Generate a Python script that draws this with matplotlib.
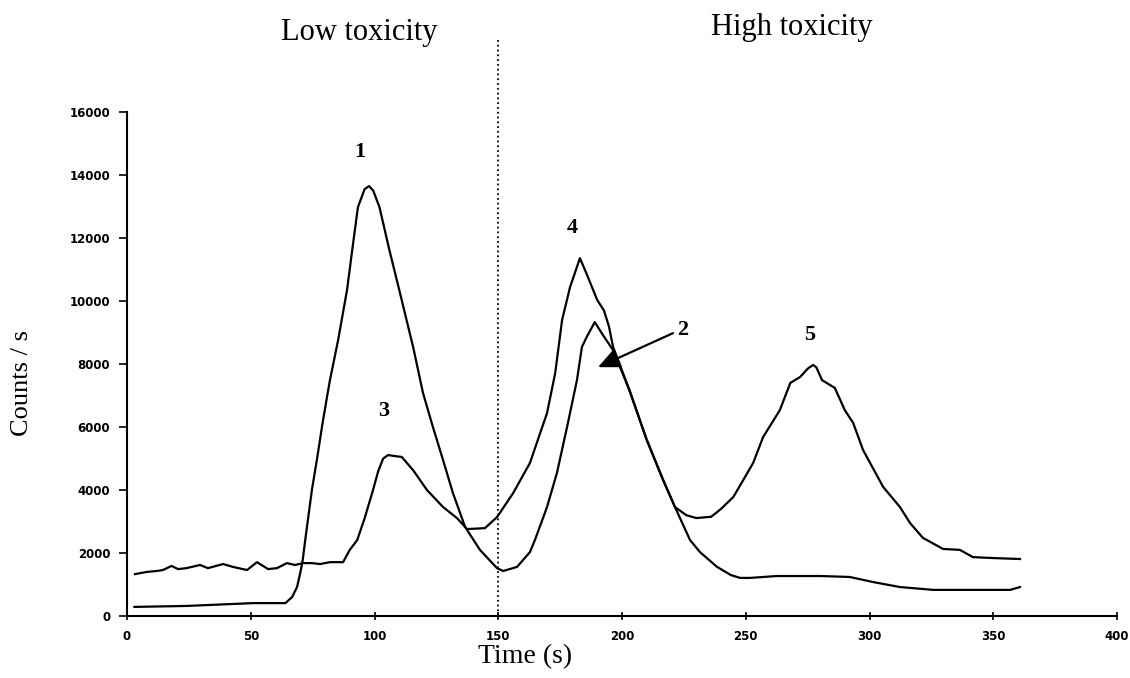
"""
Counts/s vs time for the two toxicity runs, redrawn from the scanned figure
"""
import matplotlib
matplotlib.use('Agg')
import matplotlib.pyplot as plt

# Curve with peaks 1 and 2
time_a = [3, 24, 51, 64, 66.7, 68.7, 70, 71, 72, 74.7, 77, 79, 80.8, 82, 85.3,
          88.9, 91, 93.3, 96, 97.8, 99.5, 102, 106, 110, 115.6, 119.6, 123.6,
          127.7, 131.7, 136.6, 142.6, 149.5, 152, 157.6, 162.8, 164.8, 169.7,
          173.7, 177.8, 181.8, 183.8, 186, 189, 192.3, 196.4, 203, 210, 216.6,
          221.4, 227.5, 231.5, 238.4, 244, 247.7, 251.7, 262.6, 280, 292, 301.4,
          312.3, 325.7, 339, 356.8, 360.8]
counts_a = [290, 320, 410, 410, 600, 920, 1370, 1780, 2410, 4000, 5100, 6120,
            6950, 7490, 8760, 10350, 11620, 12980, 13550, 13650, 13500, 12980,
            11620, 10350, 8540, 7080, 6000, 4950, 3900, 2830, 2100, 1520, 1430,
            1560, 2030, 2410, 3460, 4540, 6000, 7490, 8540, 8900, 9330, 8920,
            8440, 7170, 5590, 4320, 3460, 2410, 2030, 1560, 1300, 1210, 1210,
            1270, 1270, 1240, 1080, 920, 830, 830, 830, 920]

# Curve with peaks 3, 4 and 5
time_b = [3.2, 8, 12, 14.5, 18, 20.6, 24, 29.5, 32.7, 38.8, 42.8, 48.5, 52.5,
          57, 60.6, 64.6, 67.9, 71.1, 74.7, 78, 82, 87.3, 90, 93, 96, 99.4,
          101.5, 103.5, 105.5, 108, 111, 115.6, 121.2, 127.7, 133.3, 137.4,
          144.6, 149.5, 156, 162.8, 169.7, 173, 175.8, 179, 183, 185.5, 190,
          192.7, 194.7, 196.4, 203, 210, 216.6, 221.4, 226, 230, 236, 240, 245,
          249, 253, 257, 263.8, 268, 272, 275, 277.2, 278.5, 280.8, 286, 290,
          293.4, 297.4, 305.5, 312.3, 316.4, 321.6, 329.7, 336.5, 341.8, 350,
          360.8]
counts_b = [1330, 1400, 1430, 1460, 1590, 1490, 1520, 1620, 1520, 1650, 1560,
            1460, 1710, 1490, 1520, 1680, 1620, 1680, 1680, 1650, 1710, 1710,
            2100, 2410, 3100, 4000, 4600, 5000, 5110, 5080, 5050, 4630, 4000,
            3460, 3110, 2760, 2790, 3140, 3900, 4860, 6440, 7710, 9400, 10440,
            11360, 10900, 10030, 9700, 9200, 8540, 7170, 5590, 4320, 3460, 3200,
            3110, 3150, 3400, 3780, 4320, 4860, 5680, 6540, 7400, 7590, 7850,
            7970, 7900, 7490, 7240, 6540, 6130, 5270, 4100, 3460, 2950, 2480,
            2130, 2100, 1870, 1840, 1810]

x_ticks = [0, 50, 100, 150, 200, 250, 300, 350, 400]
y_ticks = [0, 2000, 4000, 6000, 8000, 10000, 12000, 14000, 16000]

peak_labels = ['1', '2', '3', '4', '5']
peak_x = [94.1, 224.6, 103.8, 179.8, 276]
peak_y = [14730, 9080, 6510, 12320, 8920]

fig = plt.figure(figsize=(11.3, 6.78), dpi=100)
ax = fig.add_axes([0.1124, 0.0914, 0.8761, 0.7434])

ax.plot(time_a, counts_a, color='black', lw=1.6)
ax.plot(time_b, counts_b, color='black', lw=1.6)

ax.set_xlim(0, 400)
ax.set_ylim(0, 16000)

# Spines and ticks like the scanned original
ax.spines['top'].set_visible(False)
ax.spines['right'].set_visible(False)
ax.spines['left'].set_linewidth(1.5)
ax.spines['bottom'].set_linewidth(1.5)
ax.set_xticks(x_ticks)
ax.set_yticks(y_ticks)
ax.tick_params(axis='y', direction='out', length=6, width=1.2, pad=6,
               labelsize=8.5)
ax.tick_params(axis='x', direction='inout', length=6, width=1.2, pad=7,
               labelsize=8.5)
for lab in ax.get_xticklabels() + ax.get_yticklabels():
    lab.set_fontweight('bold')

# Boundary between low and high toxicity
ax.plot([150, 150], [0, 18290], color='black', lw=1.3, ls=':', clip_on=False)

serif = 'Liberation Serif'
ax.text(93.7, 18510, 'Low toxicity', family=serif, fontsize=22,
        ha='center', va='center')
ax.text(268.7, 18670, 'High toxicity', family=serif, fontsize=22,
        ha='center', va='center')

for lab, px, py in zip(peak_labels, peak_x, peak_y):
    ax.text(px, py, lab, family=serif, fontsize=16, fontweight='bold',
            ha='center', va='center')

# Arrow pointing label 2 at its peak
ax.annotate('', xy=(190.3, 7900), xytext=(220.6, 8980),
            arrowprops=dict(arrowstyle='-|>,head_length=1.1,head_width=0.5',
                            color='black', lw=1.6, mutation_scale=12,
                            shrinkA=0, shrinkB=0))

ax.text(-0.106, 0.462, 'Counts / s', family=serif, fontsize=19,
        rotation=90, ha='center', va='center', transform=ax.transAxes)
ax.text(0.402, -0.081, 'Time (s)', family=serif, fontsize=20,
        ha='center', va='center', transform=ax.transAxes)

plt.savefig('out.png', dpi=100)
